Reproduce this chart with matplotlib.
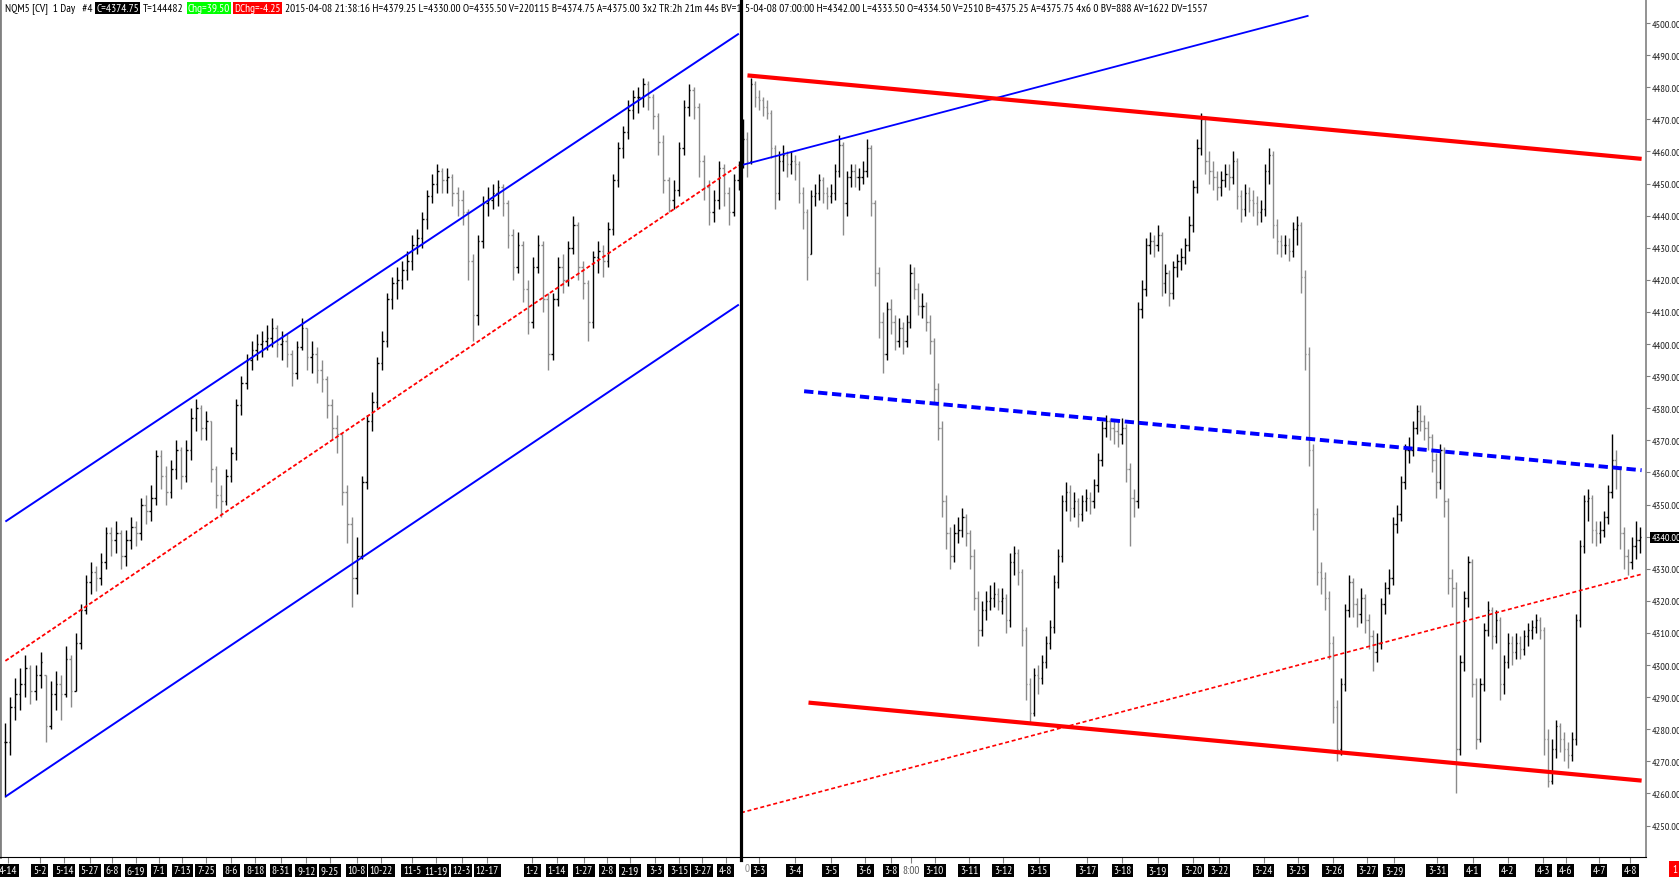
import matplotlib
matplotlib.use("Agg")
import matplotlib.pyplot as plt
from matplotlib import font_manager
from matplotlib.lines import Line2D
import numpy as np

# ---- daily bars (left part) ----
d_high = [4282, 4290, 4296, 4299, 4303, 4300, 4300, 4304, 4297, 4295,
          4298, 4297, 4306, 4303, 4310, 4319, 4328, 4332, 4331, 4335,
          4343, 4343, 4345, 4342, 4342, 4346, 4345, 4352, 4353, 4356,
          4367, 4367, 4362, 4364, 4370, 4368, 4370, 4380, 4383, 4381,
          4379, 4376, 4362, 4356, 4361, 4368, 4383, 4390, 4397, 4401,
          4403, 4404, 4406, 4408, 4406, 4404, 4403, 4398, 4401, 4408,
          4405, 4401, 4399, 4395, 4390, 4383, 4378, 4372, 4356, 4346,
          4340, 4359, 4378, 4385, 4396, 4404, 4416, 4421, 4424, 4426,
          4429, 4434, 4436, 4441, 4448, 4453, 4456, 4455, 4455, 4453,
          4449, 4448, 4442, 4428, 4434, 4446, 4449, 4450, 4451, 4450,
          4445, 4436, 4435, 4432, 4420, 4427, 4434, 4432, 4416, 4416,
          4427, 4428, 4432, 4440, 4438, 4426, 4420, 4429, 4432, 4431,
          4438, 4453, 4463, 4468, 4476, 4479, 4480, 4483, 4482, 4478,
          4472, 4465, 4452, 4451, 4463, 4476, 4481, 4480, 4475, 4459,
          4451, 4448, 4457, 4456, 4449, 4453, 4457]
d_low = [4259, 4272, 4283, 4286, 4290, 4288, 4289, 4293, 4276, 4280,
         4286, 4283, 4290, 4287, 4292, 4305, 4316, 4322, 4323, 4325,
         4330, 4334, 4335, 4330, 4331, 4336, 4337, 4339, 4344, 4345,
         4350, 4355, 4350, 4352, 4358, 4355, 4357, 4364, 4373, 4370,
         4370, 4357, 4349, 4346, 4350, 4357, 4364, 4378, 4386, 4392,
         4395, 4396, 4398, 4399, 4396, 4395, 4393, 4387, 4389, 4398,
         4392, 4391, 4388, 4385, 4377, 4370, 4366, 4350, 4338, 4318,
         4322, 4333, 4355, 4373, 4380, 4392, 4399, 4411, 4414, 4417,
         4420, 4423, 4428, 4430, 4436, 4444, 4447, 4447, 4447, 4443,
         4440, 4437, 4420, 4401, 4406, 4430, 4440, 4442, 4443, 4440,
         4430, 4420, 4422, 4413, 4403, 4405, 4422, 4410, 4392, 4395,
         4412, 4416, 4418, 4428, 4420, 4414, 4401, 4405, 4422, 4421,
         4424, 4434, 4449, 4458, 4464, 4470, 4472, 4474, 4473, 4467,
         4459, 4447, 4441, 4442, 4446, 4459, 4471, 4470, 4452, 4445,
         4437, 4438, 4442, 4443, 4437, 4440, 4448]
d_close = [4276, 4287, 4291, 4294, 4299, 4292, 4297, 4301, 4281, 4291,
           4294, 4291, 4302, 4292, 4307, 4317, 4326, 4329, 4327, 4332,
           4341, 4339, 4341, 4334, 4339, 4343, 4341, 4350, 4348, 4352,
           4365, 4359, 4354, 4361, 4367, 4359, 4367, 4377, 4380, 4374,
           4376, 4361, 4353, 4351, 4359, 4366, 4381, 4388, 4395, 4398,
           4400, 4401, 4402, 4405, 4400, 4401, 4397, 4391, 4399, 4405,
           4396, 4397, 4392, 4389, 4381, 4374, 4372, 4354, 4344, 4327,
           4334, 4357, 4376, 4382, 4394, 4401, 4414, 4419, 4420, 4423,
           4426, 4431, 4433, 4439, 4446, 4450, 4454, 4451, 4452, 4447,
           4445, 4441, 4426, 4409, 4432, 4444, 4445, 4447, 4449, 4444,
           4434, 4424, 4431, 4417, 4407, 4424, 4431, 4414, 4397, 4414,
           4424, 4420, 4430, 4437, 4424, 4419, 4407, 4427, 4429, 4426,
           4436, 4451, 4461, 4466, 4473, 4477, 4477, 4481, 4477, 4471,
           4463, 4451, 4445, 4448, 4461, 4474, 4479, 4474, 4457, 4449,
           4441, 4445, 4455, 4447, 4441, 4451, 4454]

d_tick_pos = [0.5, 6.8, 11.7, 16.8, 21.3, 26.0, 30.5, 35.2, 39.9, 45.0,
              49.7, 54.8, 59.9, 64.6, 69.9, 74.8, 81.0, 85.7, 90.8, 95.9,
              104.9, 109.8, 115.1, 119.8, 124.3, 129.4, 134.1, 138.7, 143.4]
d_tick_lab = ["4-14", "5-2", "5-14", "5-27", "6-8", "6-19", "7-1", "7-13", "7-25", "8-6",
              "8-18", "8-31", "9-12", "9-25", "10-8", "10-22", "11-5", "11-19", "12-3", "12-17",
              "1-2", "1-14", "1-27", "2-8", "2-19", "3-3", "3-15", "3-27", "4-8"]

# ---- intraday bars (right part) ----
i_high = [4470, 4466, 4483, 4482, 4479, 4477, 4476, 4473, 4462, 4460,
          4462, 4460, 4460, 4459, 4457, 4449, 4442, 4448, 4450, 4453,
          4452, 4449, 4450, 4456, 4465, 4463, 4454, 4456, 4456, 4455,
          4457, 4464, 4462, 4445, 4424, 4410, 4413, 4414, 4409, 4408,
          4407, 4409, 4425, 4424, 4419, 4416, 4413, 4409, 4402, 4388,
          4376, 4353, 4343, 4344, 4346, 4349, 4347, 4342, 4336, 4323,
          4320, 4323, 4325, 4326, 4324,
          4324, 4322, 4335, 4337, 4336, 4330,
          4312, 4296, 4299, 4300, 4303, 4309, 4314, 4328, 4336, 4353,
          4357, 4356, 4354, 4352, 4353, 4355,
          4354, 4358, 4366, 4376, 4378, 4377, 4376,
          4376, 4377, 4375, 4363, 4355, 4413, 4420, 4433, 4435,
          4434, 4437, 4435, 4425, 4423, 4426, 4428, 4430, 4433, 4440,
          4451, 4464, 4472, 4471, 4460, 4457, 4454, 4454, 4456,
          4456, 4460, 4458, 4448, 4450, 4449, 4448, 4446, 4445, 4456, 4461, 4460,
          4439, 4434, 4434, 4433, 4438, 4440, 4438, 4423, 4399, 4369,
          4349, 4332, 4329, 4323, 4309, 4289, 4296, 4319, 4328, 4327,
          4321, 4324, 4322, 4316, 4311, 4310, 4321, 4326, 4330, 4346,
          4350, 4359, 4369, 4371, 4376, 4381, 4381, 4378, 4376, 4372,
          4366, 4369, 4368, 4352, 4330, 4326, 4303, 4323, 4334, 4333,
          4296, 4296, 4313, 4320, 4318, 4317, 4315, 4303, 4310, 4309,
          4310, 4309, 4311, 4313, 4314, 4316, 4315, 4312, 4280, 4277,
          4283, 4282, 4279, 4276, 4279, 4316, 4339, 4353, 4355, 4353,
          4345, 4345, 4348, 4356, 4372, 4367, 4362, 4343, 4336, 4340, 4345, 4343]
i_low = [4455, 4452, 4456, 4474, 4473, 4471, 4470, 4458, 4442, 4445,
         4454, 4452, 4453, 4451, 4444, 4436, 4420, 4428, 4443, 4445,
         4444, 4442, 4444, 4445, 4452, 4434, 4440, 4449, 4449, 4448,
         4450, 4452, 4440, 4418, 4402, 4391, 4395, 4403, 4398, 4399,
         4397, 4399, 4405, 4414, 4409, 4408, 4404, 4397, 4382, 4370,
         4346, 4336, 4330, 4332, 4338, 4340, 4337, 4330, 4317, 4306,
         4309, 4314, 4317, 4318, 4317,
         4316, 4310, 4312, 4328, 4325, 4306,
         4289, 4282, 4284, 4291, 4294, 4299, 4305, 4310, 4324, 4332,
         4348, 4345, 4346, 4343, 4345, 4348,
         4347, 4349, 4354, 4362, 4371, 4370, 4369,
         4368, 4369, 4357, 4337, 4346, 4349, 4408, 4415, 4428,
         4427, 4429, 4415, 4416, 4412, 4414, 4421, 4423, 4425, 4429,
         4435, 4447, 4459, 4453, 4450, 4448, 4445, 4446, 4449,
         4448, 4450, 4442, 4438, 4440, 4441, 4440, 4437, 4438, 4440, 4450, 4433,
         4428, 4427, 4428, 4426, 4427, 4431, 4416, 4392, 4362, 4342,
         4325, 4322, 4317, 4302, 4282, 4270, 4272, 4292, 4315, 4315,
         4312, 4313, 4310, 4305, 4298, 4301, 4305, 4316, 4322, 4325,
         4341, 4345, 4355, 4363, 4365, 4372, 4373, 4370, 4367, 4360,
         4352, 4355, 4346, 4322, 4318, 4260, 4272, 4298, 4318, 4290,
         4274, 4276, 4292, 4309, 4305, 4307, 4289, 4291, 4299, 4300,
         4302, 4302, 4303, 4306, 4308, 4310, 4308, 4272, 4262, 4263,
         4271, 4273, 4270, 4268, 4270, 4275, 4312, 4335, 4345, 4338,
         4337, 4338, 4340, 4344, 4352, 4355, 4336, 4330, 4328, 4330, 4333, 4335]
i_close = [4464, 4457, 4481, 4477, 4476, 4474, 4472, 4461, 4447, 4457,
           4459, 4456, 4457, 4456, 4447, 4441, 4427, 4446, 4447, 4451,
           4447, 4446, 4447, 4454, 4462, 4444, 4452, 4454, 4452, 4452,
           4454, 4461, 4444, 4422, 4407, 4397, 4411, 4407, 4401, 4405,
           4401, 4407, 4422, 4417, 4412, 4412, 4407, 4401, 4386, 4374,
           4351, 4341, 4334, 4341, 4342, 4346, 4341, 4334, 4321, 4311,
           4317, 4320, 4321, 4322, 4320,
           4321, 4314, 4332, 4335, 4329, 4311,
           4294, 4285, 4297, 4296, 4301, 4307, 4312, 4326, 4334, 4351,
           4354, 4349, 4351, 4347, 4351, 4352,
           4351, 4356, 4364, 4374, 4376, 4374, 4373,
           4372, 4374, 4361, 4352, 4351, 4411, 4417, 4431, 4432,
           4431, 4434, 4419, 4422, 4416, 4424, 4426, 4427, 4431, 4437,
           4449, 4461, 4470, 4457, 4454, 4452, 4449, 4451, 4453,
           4452, 4457, 4446, 4442, 4447, 4445, 4444, 4441, 4442, 4454, 4459, 4437,
           4432, 4431, 4431, 4429, 4436, 4437, 4421, 4397, 4367, 4347,
           4329, 4327, 4321, 4307, 4287, 4274, 4294, 4317, 4326, 4319,
           4316, 4321, 4314, 4309, 4304, 4307, 4319, 4324, 4327, 4344,
           4347, 4357, 4367, 4367, 4374, 4379, 4376, 4374, 4371, 4364,
           4357, 4367, 4351, 4327, 4324, 4274, 4301, 4321, 4332, 4294,
           4277, 4294, 4311, 4317, 4309, 4314, 4294, 4301, 4307, 4304,
           4307, 4305, 4309, 4311, 4312, 4314, 4311, 4277, 4264, 4274,
           4281, 4277, 4274, 4272, 4277, 4314, 4337, 4351, 4352, 4342,
           4341, 4342, 4346, 4354, 4364, 4361, 4341, 4334, 4332, 4337, 4339, 4340]

i_tick_pos = [4.0, 12.9, 22.0, 30.6, 37.1, 42.2, 48.1, 56.7, 65.3, 74.2,
              86.3, 95.2, 104.0, 112.9, 119.4, 130.6, 139.2, 148.1, 156.7, 163.4,
              174.2, 183.1, 191.9, 200.8, 206.5, 214.8, 222.6]
i_tick_lab = ["3-3", "3-4", "3-5", "3-6", "3-8", "8:00", "3-10", "3-11", "3-12", "3-15",
              "3-17", "3-18", "3-19", "3-20", "3-22", "3-24", "3-25", "3-26", "3-27", "3-29",
              "3-31", "4-1", "4-2", "4-3", "4-6", "4-7", "4-8"]

# trend lines: [x0, price0, x1, price1] in bar numbers
chan_top = [0, 4344.7, 146, 4496.7]
chan_mid = [0, 4301.3, 146, 4455.7]
chan_bot = [0, 4259.0, 146, 4412.3]
fan_blue = [-0.54, 4455.7, 141.9, 4502.3]
res_red = [1.08, 4483.7, 225.5, 4457.7]
mid_blue = [15.3, 4385.3, 225.5, 4360.7]
sup_red = [16.4, 4288.3, 225.5, 4264.0]
rise_red = [-0.54, 4254.0, 225.5, 4328.3]

last_price = 4340

# ---- fonts: a narrow face like the trading platform's ----
names = {f.name for f in font_manager.fontManager.ttflist}
fam = "DejaVu Sans"
fs_head, fs_tick, fs_axis = 5.8, 5.6, 5.4
for cand in ("PT Sans Narrow", "Liberation Sans Narrow", "Archivo Narrow", "Roboto Condensed"):
    if cand in names:
        fam = cand
        fs_head, fs_tick, fs_axis = 8.2, 8, 7.4
        break
plt.rcParams["font.family"] = [fam, "DejaVu Sans"]

W, H = 1679, 879
fig = plt.figure(figsize=(W / 100, H / 100), dpi=100)
axL = fig.add_axes([0, 21 / H, 741 / W, 858 / H])
axR = fig.add_axes([741 / W, 21 / H, 905 / W, 858 / H], sharey=axL)


def draw_bars(ax, hi, lo, cl):
    hi, lo, cl = np.array(hi), np.array(lo), np.array(cl)
    x = np.arange(len(cl))
    op = np.clip(np.r_[cl[0], cl[:-1]], lo, hi)
    col = np.where(cl >= op, "black", "#8a8a8a")
    ax.vlines(x, lo, hi, colors=col, lw=1.0)
    ax.hlines(op, x - 0.32, x, colors=col, lw=1.0)
    ax.hlines(cl, x, x + 0.32, colors=col, lw=1.0)


def tline(ax, seg, color, lw, ls="-"):
    ax.plot([seg[0], seg[2]], [seg[1], seg[3]], color=color, lw=lw, ls=ls,
            solid_capstyle="butt", dash_capstyle="butt")


draw_bars(axL, d_high, d_low, d_close)
draw_bars(axR, i_high, i_low, i_close)

tline(axL, chan_top, "#0000ff", 1.4)
tline(axL, chan_bot, "#0000ff", 1.4)
tline(axL, chan_mid, "#ff0000", 1.3, (0, (2.2, 1.3)))
tline(axR, fan_blue, "#0000ff", 1.3)
tline(axR, res_red, "#ff0000", 3.0)
tline(axR, sup_red, "#ff0000", 3.0)
tline(axR, mid_blue, "#0000ff", 2.8, (0, (2.4, 1.2)))
tline(axR, rise_red, "#ff0000", 1.2, (0, (2.4, 1.6)))

axL.set_xlim(-1.07, 146.43)
axR.set_xlim(-0.54, 226.6)
axL.set_ylim(4240.2, 4507.5)

for ax in (axL, axR):
    ax.set_facecolor("white")
    for s in ("top", "left", "right"):
        ax.spines[s].set_visible(False)
    ax.spines["bottom"].set_color("black")
    ax.spines["bottom"].set_linewidth(0.8)
    ax.tick_params(axis="x", direction="out", length=4, color="#808080",
                   pad=2, labelsize=fs_tick, labelcolor="white")

axL.spines["left"].set_visible(True)
axL.spines["left"].set_color("#808080")
axL.spines["left"].set_linewidth(2)
axL.tick_params(axis="y", left=False, labelleft=False)

axR.spines["right"].set_visible(True)
axR.spines["right"].set_color("#808080")
axR.spines["right"].set_linewidth(1.2)
axR.yaxis.tick_right()
levels = list(range(4250, 4501, 10))
axR.set_yticks(levels)
axR.set_yticklabels([f"{v:.2f}" for v in levels])
axR.tick_params(axis="y", direction="out", length=3, color="#808080",
                pad=1, labelsize=fs_axis, labelcolor="#202020")
for t in axR.get_yticklabels():
    if t.get_text() == f"{last_price:.2f}":
        t.set_color("white")
        t.set_bbox(dict(boxstyle="square,pad=0.12", fc="black", ec="none"))

box = dict(boxstyle="square,pad=0.16", fc="black", ec="none")
axL.set_xticks(d_tick_pos)
axL.set_xticklabels(d_tick_lab)
for t in axL.get_xticklabels():
    t.set_bbox(box)
axR.set_xticks(i_tick_pos)
axR.set_xticklabels(i_tick_lab)
for t in axR.get_xticklabels():
    if t.get_text() == "8:00":
        t.set_color("#555555")
    else:
        t.set_bbox(box)
axR.text(0.4, -0.0125, "0", transform=axR.get_xaxis_transform(), ha="left",
         va="center", fontsize=fs_tick, color="#888888", clip_on=False)

# divider between the two sessions
fig.add_artist(Line2D([741 / W, 741 / W], [18 / H, 1], color="black", lw=2.3, zorder=10))

# small red marker bottom right
fig.text(1672 / W, 9 / H, "1", ha="left", va="center", fontsize=fs_tick, color="white",
         bbox=dict(boxstyle="square,pad=0.3", fc="#ff0000", ec="none"))

# ---- header line ----
head1 = [("NQM5 [CV]  1 Day   #4", "black", None),
         ("C=4374.75", "white", "black"),
         ("T=144482", "black", None),
         ("Chg=39.50", "white", "#00ff00"),
         ("DChg=-4.25", "white", "#ff0000"),
         ("2015-04-08 21:38:16 H=4379.25 L=4330.00 O=4335.50 V=220115 B=4374.75 "
          "A=4375.00 3x2 TR:2h 21m 44s BV=1", "black", None)]
head2 = ("5-04-08 07:00:00 H=4342.00 L=4333.50 O=4334.50 V=2510 B=4375.25 "
         "A=4375.75 4x6 0 BV=888 AV=1622 DV=1557")

renderer = fig.canvas.get_renderer()
xpix = 5
ypos = 1 - 9 / H
for txt, col, bg in head1:
    kw = {}
    if bg:
        kw["bbox"] = dict(boxstyle="square,pad=0.1", fc=bg, ec="none")
    t = fig.text(xpix / W, ypos, txt, ha="left", va="center", fontsize=fs_head,
                 color=col, zorder=5, **kw)
    xpix = t.get_window_extent(renderer).x1 + 4
fig.text(745 / W, ypos, head2, ha="left", va="center", fontsize=fs_head, color="black",
         zorder=6, bbox=dict(boxstyle="square,pad=0.1", fc="white", ec="none"))

fig.savefig("out.png", dpi=100, facecolor="white")
